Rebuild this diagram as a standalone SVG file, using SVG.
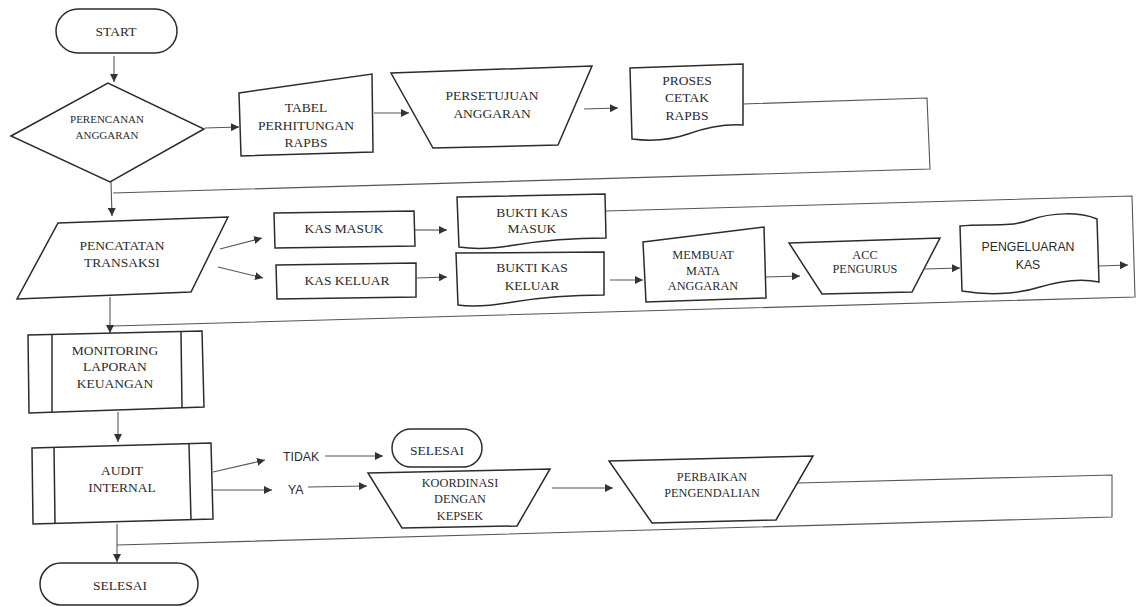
<svg xmlns="http://www.w3.org/2000/svg" width="1141" height="607" viewBox="0 0 1141 607">
<style>
.s{fill:#fff;stroke:#2b2b2b;stroke-width:1.5;stroke-linejoin:miter}
.c{fill:none;stroke:#555;stroke-width:1.1}
.t{font-family:"Liberation Serif","Times New Roman",serif;font-size:13.5px;fill:#2b2b2b;text-anchor:middle}
.m{font-size:12.3px}
.x{font-size:11px}
.a{font-family:"Liberation Sans",Arial,sans-serif;font-size:12.3px;fill:#2b2b2b}
</style>
<defs>
<marker id="ar" viewBox="0 0 10 10" refX="10" refY="5" markerWidth="8" markerHeight="8" markerUnits="userSpaceOnUse" orient="auto">
<path d="M0,0 L10,5 L0,10 Z" fill="#333"/>
</marker>
</defs>
<rect width="1141" height="607" fill="#fff"/>

<g id="connectors">
<line class="c" x1="114" y1="56" x2="114" y2="82" marker-end="url(#ar)"/>
<line class="c" x1="205" y1="128" x2="239" y2="127" marker-end="url(#ar)"/>
<line class="c" x1="374" y1="113" x2="409" y2="113" marker-end="url(#ar)"/>
<line class="c" x1="584" y1="109" x2="618" y2="108" marker-end="url(#ar)"/>
<polyline class="c" points="743,104 927,98 930,169 113,193"/>
<line class="c" x1="111" y1="182" x2="112" y2="216" marker-end="url(#ar)"/>
<line class="c" x1="220" y1="249" x2="262" y2="238" marker-end="url(#ar)"/>
<line class="c" x1="218" y1="267" x2="263" y2="278" marker-end="url(#ar)"/>
<line class="c" x1="415" y1="230" x2="447" y2="230" marker-end="url(#ar)"/>
<line class="c" x1="417" y1="278" x2="447" y2="277" marker-end="url(#ar)"/>
<polyline class="c" points="606,211 1132,196 1135,297 113,326"/>
<line class="c" x1="110" y1="297" x2="110" y2="333" marker-end="url(#ar)"/>
<line class="c" x1="610" y1="280" x2="643" y2="280" marker-end="url(#ar)"/>
<line class="c" x1="766" y1="277" x2="800" y2="276" marker-end="url(#ar)"/>
<line class="c" x1="925" y1="269" x2="960" y2="268" marker-end="url(#ar)"/>
<line class="c" x1="1099" y1="266" x2="1128" y2="265" marker-end="url(#ar)"/>
<line class="c" x1="118" y1="412" x2="118" y2="442" marker-end="url(#ar)"/>
<line class="c" x1="213" y1="472" x2="265" y2="460" marker-end="url(#ar)"/>
<line class="c" x1="325" y1="456" x2="383" y2="456" marker-end="url(#ar)"/>
<line class="c" x1="213" y1="490" x2="272" y2="490" marker-end="url(#ar)"/>
<line class="c" x1="308" y1="487" x2="367" y2="486" marker-end="url(#ar)"/>
<line class="c" x1="552" y1="488" x2="613" y2="488" marker-end="url(#ar)"/>
<polyline class="c" points="798,483 1112,475 1112,517 117,545"/>
<line class="c" x1="117" y1="524" x2="117" y2="562" marker-end="url(#ar)"/>
<text class="a" x="283" y="461">TIDAK</text>
<text class="a" x="288" y="494">YA</text>
</g>

<g id="start">
<rect class="s" x="56" y="9" width="121" height="44" rx="22"/>
<text class="t" x="116" y="36">START</text>
</g>

<g id="perencanan">
<polygon class="s" points="11,136 108,83 204,129 110,182"/>
<text class="t x" x="107" y="123">PERENCANAN</text>
<text class="t x" x="107" y="139">ANGGARAN</text>
</g>

<g id="tabel">
<polygon class="s" points="239,93 372,74 373,152 241,156"/>
<text class="t" x="306" y="112">TABEL</text>
<text class="t" x="306" y="130">PERHITUNGAN</text>
<text class="t" x="306" y="147">RAPBS</text>
</g>

<g id="persetujuan">
<polygon class="s" points="391,73 592,66 558,145 433,148"/>
<text class="t" x="492" y="100">PERSETUJUAN</text>
<text class="t" x="492" y="118">ANGGARAN</text>
</g>

<g id="proses">
<path class="s" d="M630,68 L743,64 L743,125 C725,124 705,128 688,134 C668,141 648,141 632,139 Z"/>
<text class="t" x="687" y="85">PROSES</text>
<text class="t" x="687" y="102">CETAK</text>
<text class="t" x="687" y="120">RAPBS</text>
</g>

<g id="pencatatan">
<polygon class="s" points="58,223 228,217 191,292 17,299"/>
<text class="t" x="122" y="250">PENCATATAN</text>
<text class="t" x="122" y="267">TRANSAKSI</text>
</g>

<g id="kasmasuk">
<polygon class="s" points="274,213 414,211 415,246 275,248"/>
<text class="t" x="344" y="233">KAS MASUK</text>
</g>

<g id="kaskeluar">
<polygon class="s" points="276,265 416,263 416,297 277,299"/>
<text class="t" x="347" y="285">KAS KELUAR</text>
</g>

<g id="buktimasuk">
<path class="s" d="M457,197 L605,194 L606,238 C575,238 545,240 515,245 C492,249 472,249 459,247 Z"/>
<text class="t" x="532" y="217">BUKTI KAS</text>
<text class="t" x="532" y="233">MASUK</text>
</g>

<g id="buktikeluar">
<path class="s" d="M456,253 L604,252 L604,295 C573,295 543,297 513,302 C490,306 470,307 458,305 Z"/>
<text class="t" x="532" y="272">BUKTI KAS</text>
<text class="t" x="532" y="290">KELUAR</text>
</g>

<g id="membuat">
<polygon class="s" points="643,242 764,227 766,298 646,302"/>
<text class="t m" x="703" y="259">MEMBUAT</text>
<text class="t m" x="703" y="275">MATA</text>
<text class="t m" x="703" y="290">ANGGARAN</text>
</g>

<g id="acc">
<polygon class="s" points="789,243 940,238 912,292 822,294"/>
<text class="t m" x="865" y="259">ACC</text>
<text class="t m" x="865" y="273">PENGURUS</text>
</g>

<g id="pengeluaran">
<path class="s" d="M960,226 C985,223 1008,228 1030,220 C1052,212 1080,212 1097,219 L1099,282 C1080,278 1060,281 1040,287 C1015,295 985,295 962,291 Z"/>
<text class="a" x="1028" y="251" text-anchor="middle">PENGELUARAN</text>
<text class="a" x="1028" y="269" text-anchor="middle">KAS</text>
</g>

<g id="monitoring">
<polygon class="s" points="28,335 202,331 204,407 29,413"/>
<line class="s" x1="52" y1="334" x2="52" y2="412"/>
<line class="s" x1="181" y1="332" x2="182" y2="408"/>
<text class="t" x="115" y="355">MONITORING</text>
<text class="t" x="115" y="371">LAPORAN</text>
<text class="t" x="115" y="388">KEUANGAN</text>
</g>

<g id="audit">
<polygon class="s" points="32,448 211,443 213,519 33,524"/>
<line class="s" x1="54" y1="447" x2="55" y2="523"/>
<line class="s" x1="189" y1="444" x2="191" y2="520"/>
<text class="t" x="122" y="475">AUDIT</text>
<text class="t" x="122" y="492">INTERNAL</text>
</g>

<g id="selesai1">
<rect class="s" x="392" y="429" width="90" height="38" rx="19"/>
<text class="t" x="437" y="455">SELESAI</text>
</g>

<g id="koordinasi">
<polygon class="s" points="368,473 550,469 517,526 402,528"/>
<text class="t m" x="460" y="487">KOORDINASI</text>
<text class="t m" x="460" y="503">DENGAN</text>
<text class="t m" x="460" y="520">KEPSEK</text>
</g>

<g id="perbaikan">
<polygon class="s" points="609,461 813,456 776,520 652,523"/>
<text class="t m" x="712" y="481">PERBAIKAN</text>
<text class="t m" x="712" y="497">PENGENDALIAN</text>
</g>

<g id="selesai2">
<rect class="s" x="40" y="563" width="158" height="42" rx="21"/>
<text class="t" x="120" y="590">SELESAI</text>
</g>
</svg>
